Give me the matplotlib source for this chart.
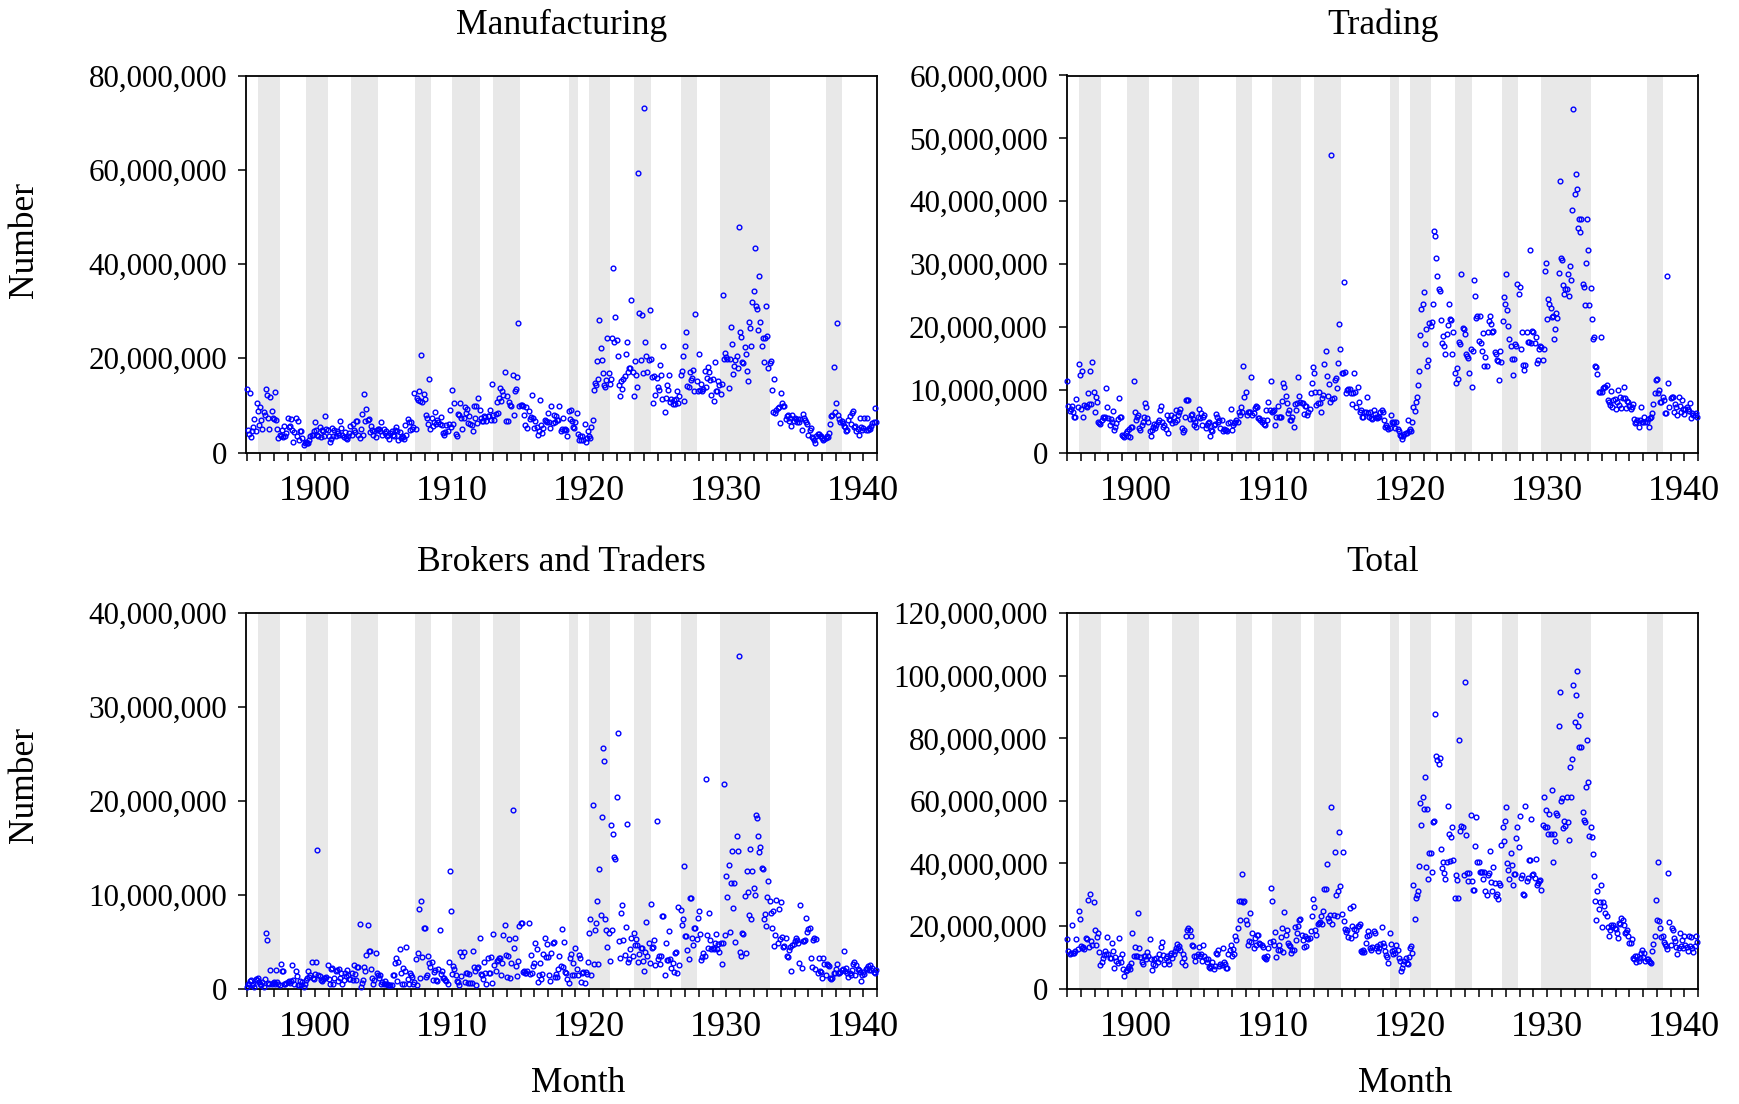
import matplotlib.pyplot as plt
from matplotlib.ticker import FixedLocator, FuncFormatter
import numpy as np

plt.rcParams['font.family'] = ['Liberation Serif', 'DejaVu Serif']

# monthly counts in millions, Jan 1895 - Dec 1940, one row per year
manufacturing = [
    13.5, 4.8, 3.9, 12.6, 3.2, 4.6, 5.5, 7.2, 4.6, 10.6, 8.9, 5.9,
    9.7, 7.0, 5.0, 8.5, 7.9, 13.5, 12.1, 7.3, 5.0, 11.7, 8.9, 7.4,
    7.1, 12.8, 6.8, 5.0, 3.0, 3.8, 3.4, 4.7, 3.2, 5.7, 3.4, 4.1,
    7.3, 5.5, 5.7, 7.2, 4.7, 2.2, 4.3, 7.4, 3.5, 6.6, 2.6, 4.6,
    4.6, 3.1, 1.6, 2.1, 2.3, 2.1, 2.0, 2.7, 3.5, 3.8, 3.8, 4.6,
    6.4, 4.8, 3.8, 3.6, 5.5, 3.2, 4.8, 4.5, 3.5, 7.7, 5.0, 4.8,
    3.6, 2.3, 2.9, 5.2, 3.6, 4.8, 3.6, 4.6, 4.1, 3.8, 6.7, 5.3,
    3.8, 3.2, 4.3, 3.1, 2.9, 3.4, 4.1, 5.7, 3.8, 6.1, 4.8, 4.3,
    6.7, 6.7, 3.8, 3.0, 5.0, 8.2, 3.8, 12.5, 6.6, 9.2, 7.0, 7.1,
    4.3, 5.7, 4.7, 3.8, 4.5, 3.3, 4.7, 5.0, 5.0, 4.5, 6.5, 3.8,
    5.0, 4.1, 4.5, 3.6, 3.8, 2.8, 4.1, 4.6, 3.8, 3.5, 4.7, 5.5,
    4.5, 2.7, 4.3, 3.0, 3.4, 3.2, 2.8, 5.9, 3.8, 7.1, 6.4, 4.8,
    6.4, 5.0, 5.5, 12.6, 5.0, 11.5, 11.2, 13.1, 10.9, 20.6, 10.7, 12.5,
    11.3, 8.0, 7.3, 6.0, 15.5, 5.0, 7.4, 5.7, 6.4, 8.5, 6.0, 6.8,
    6.5, 6.0, 7.5, 5.9, 4.1, 3.7, 4.3, 5.9, 4.6, 6.0, 9.1, 5.5,
    13.2, 6.1, 10.4, 3.9, 3.6, 8.2, 8.0, 10.6, 7.4, 5.0, 7.4, 9.6,
    8.4, 9.2, 6.2, 7.7, 6.1, 5.9, 4.5, 9.9, 7.3, 9.9, 6.2, 11.6,
    9.1, 7.4, 6.6, 6.6, 7.7, 7.5, 6.6, 7.7, 7.8, 9.1, 7.0, 14.6,
    8.0, 7.0, 8.2, 10.7, 8.4, 11.6, 13.7, 10.9, 13.0, 12.3, 17.1, 6.7,
    11.9, 6.7, 10.7, 10.1, 9.8, 16.5, 7.9, 13.1, 13.5, 16.0, 27.4, 9.9,
    10.1, 10.1, 9.9, 7.9, 5.9, 9.6, 5.1, 8.9, 7.2, 7.5, 12.1, 7.4,
    5.2, 6.7, 5.5, 3.8, 4.5, 11.2, 5.9, 4.1, 5.3, 6.8, 6.6, 6.5,
    8.4, 6.4, 5.3, 9.8, 6.2, 8.0, 6.4, 7.7, 6.8, 6.8, 9.9, 4.6,
    5.0, 7.4, 4.8, 5.0, 4.8, 3.6, 8.9, 7.1, 9.1, 6.7, 5.4, 5.3,
    6.5, 8.4, 3.9, 2.6, 3.4, 2.6, 3.4, 2.6, 6.1, 2.3, 3.0, 4.5,
    3.5, 3.0, 5.4, 6.8, 13.3, 14.8, 14.4, 19.5, 15.7, 28.2, 22.2, 19.7,
    16.9, 14.4, 13.8, 15.3, 24.3, 16.9, 14.5, 15.6, 24.3, 39.1, 23.5, 28.7,
    23.8, 20.4, 14.4, 11.9, 15.1, 13.5, 15.5, 16.2, 21.0, 23.4, 17.0, 18.0,
    18.0, 32.3, 17.0, 11.9, 19.5, 16.5, 13.8, 59.4, 29.5, 19.6, 29.1, 16.9,
    73.1, 23.5, 20.4, 17.0, 19.6, 30.2, 19.9, 16.0, 10.6, 16.3, 12.3, 15.8,
    13.8, 13.3, 18.5, 16.5, 11.3, 22.7, 8.6, 11.6, 14.4, 13.2, 16.4, 10.7,
    11.3, 10.3, 11.1, 10.3, 11.3, 13.0, 10.5, 11.9, 16.5, 17.2, 20.4, 10.9,
    22.7, 25.6, 14.2, 14.0, 17.0, 15.3, 15.8, 17.6, 13.1, 29.3, 15.1, 13.1,
    20.8, 13.3, 14.5, 13.1, 13.5, 17.2, 13.9, 15.8, 18.2, 17.0, 15.3, 12.3,
    15.5, 10.9, 19.2, 13.1, 13.1, 15.2, 14.3, 12.5, 14.5, 33.5, 19.9, 21.1,
    20.3, 19.9, 13.7, 19.9, 26.6, 23.1, 16.7, 18.4, 19.7, 20.4, 18.0, 47.9,
    25.6, 24.5, 19.2, 19.0, 22.3, 21.0, 17.3, 15.1, 27.7, 26.5, 22.7, 32.0,
    34.3, 43.5, 31.1, 30.4, 26.0, 37.4, 27.7, 22.7, 24.3, 19.2, 24.3, 31.1,
    24.7, 17.9, 19.0, 19.4, 13.3, 8.7, 15.5, 8.4, 9.1, 9.4, 9.6, 6.2,
    12.6, 10.6, 9.9, 9.9, 7.1, 7.7, 7.9, 6.6, 7.3, 5.7, 7.9, 6.6,
    7.3, 7.1, 6.4, 7.1, 6.4, 7.1, 4.7, 8.2, 7.3, 6.8, 6.4, 6.1,
    3.8, 4.7, 5.2, 3.3, 3.0, 2.6, 2.1, 3.6, 3.9, 3.9, 3.5, 3.4,
    3.0, 2.7, 2.8, 3.0, 3.4, 3.2, 4.1, 6.1, 7.7, 8.0, 18.2, 8.7,
    10.5, 27.4, 7.9, 7.2, 6.4, 6.6, 6.2, 5.7, 5.5, 4.5, 4.8, 6.8,
    7.8, 6.1, 8.4, 8.9, 5.5, 5.7, 4.6, 5.0, 3.8, 7.3, 5.5, 4.8,
    5.2, 7.3, 4.8, 7.4, 4.8, 5.2, 5.0, 5.7, 6.2, 6.5, 9.4, 6.5,
]

trading = [
    11.4, 7.4, 6.6, 6.9, 7.4, 6.5, 5.7, 5.7, 8.5, 7.3, 14.1, 12.4,
    6.9, 12.9, 5.7, 7.6, 7.4, 7.2, 9.4, 7.7, 13.0, 7.7, 14.4, 9.6,
    6.4, 8.8, 8.0, 4.9, 4.7, 4.5, 5.1, 5.7, 5.5, 5.6, 10.3, 7.2,
    5.5, 4.3, 5.3, 4.9, 6.6, 3.6, 4.1, 4.7, 5.3, 8.6, 5.6, 5.6,
    2.8, 2.7, 2.4, 3.1, 3.4, 2.6, 3.7, 2.4, 4.0, 4.1, 11.4, 6.4,
    5.1, 5.6, 5.9, 3.9, 3.6, 4.3, 4.9, 5.6, 7.9, 7.3, 5.5, 4.8,
    3.5, 2.7, 3.6, 4.1, 4.6, 3.9, 4.4, 4.9, 5.2, 6.8, 7.4, 4.9,
    4.1, 4.3, 3.7, 6.0, 3.1, 5.3, 5.2, 6.0, 4.7, 5.7, 4.8, 6.8,
    5.1, 5.9, 6.5, 6.9, 3.9, 3.2, 3.6, 5.7, 8.3, 8.4, 8.3, 5.3,
    5.9, 6.2, 5.3, 4.4, 4.8, 4.1, 5.7, 6.9, 5.5, 6.3, 4.3, 5.7,
    5.9, 3.9, 4.3, 4.7, 4.8, 2.6, 3.6, 3.4, 4.4, 4.5, 6.1, 5.7,
    4.9, 5.2, 3.9, 5.1, 3.5, 3.7, 3.6, 3.6, 3.5, 4.7, 4.8, 7.0,
    3.6, 4.3, 4.7, 4.9, 5.1, 4.9, 6.5, 5.9, 7.3, 6.5, 13.8, 8.9,
    9.7, 6.0, 6.4, 6.4, 6.4, 12.0, 6.0, 6.3, 7.1, 7.4, 7.2, 5.5,
    5.5, 5.2, 4.9, 5.2, 4.5, 4.4, 6.8, 5.2, 8.0, 6.7, 11.3, 6.5,
    6.6, 6.7, 4.3, 5.6, 7.4, 5.6, 5.6, 5.7, 8.2, 11.1, 10.4, 9.0,
    7.9, 6.3, 6.7, 5.2, 5.1, 5.6, 4.0, 7.7, 6.8, 7.9, 12.0, 9.0,
    8.0, 7.9, 7.8, 6.1, 7.4, 7.4, 6.0, 6.5, 7.0, 9.5, 11.1, 13.6,
    12.6, 9.6, 7.5, 7.8, 9.6, 7.9, 6.4, 8.7, 9.2, 14.1, 16.1, 12.2,
    9.0, 10.9, 8.0, 47.4, 8.5, 8.7, 11.5, 11.9, 10.3, 14.3, 20.5, 16.4,
    12.6, 12.7, 27.2, 12.8, 9.5, 10.0, 10.1, 10.1, 9.4, 7.7, 9.5, 12.7,
    9.7, 7.3, 10.4, 8.0, 6.5, 6.8, 5.6, 5.7, 6.5, 6.4, 8.8, 6.3,
    5.6, 6.5, 5.5, 5.3, 6.7, 6.1, 5.6, 5.5, 5.7, 5.7, 6.4, 6.8,
    6.5, 5.2, 4.1, 4.3, 4.0, 3.8, 3.9, 6.0, 4.8, 4.7, 4.8, 3.9,
    4.8, 3.7, 3.4, 2.8, 2.6, 2.1, 2.6, 3.0, 3.1, 3.1, 5.2, 3.5,
    3.7, 3.5, 4.8, 7.2, 6.6, 8.0, 8.8, 10.8, 12.9, 18.7, 22.9, 23.6,
    25.6, 17.3, 19.6, 13.7, 14.7, 20.6, 20.1, 20.7, 23.6, 35.2, 34.5, 30.9,
    28.1, 26.1, 25.7, 21.1, 17.4, 18.5, 17.0, 15.6, 18.9, 20.3, 23.6, 21.3,
    21.1, 15.7, 19.2, 12.7, 11.0, 13.4, 11.7, 17.6, 17.3, 28.4, 19.8, 19.6,
    18.9, 15.7, 15.4, 15.1, 12.7, 16.5, 10.4, 16.1, 27.4, 24.9, 21.4, 21.7,
    17.8, 21.8, 17.4, 16.1, 19.0, 13.8, 15.2, 13.8, 19.2, 20.9, 21.8, 20.5,
    19.1, 19.4, 16.0, 15.7, 14.8, 14.5, 11.5, 16.1, 14.4, 20.9, 24.7, 23.6,
    28.4, 22.6, 20.2, 18.1, 17.0, 14.9, 12.3, 14.9, 17.3, 17.0, 26.8, 25.2,
    26.4, 16.4, 19.2, 14.0, 13.1, 13.9, 19.2, 17.6, 17.6, 32.2, 17.4, 19.3,
    19.2, 17.4, 18.4, 14.3, 14.8, 16.4, 16.9, 16.8, 14.8, 16.4, 28.9, 30.1,
    21.2, 24.5, 23.7, 23.0, 21.5, 21.8, 18.1, 19.6, 22.2, 21.4, 28.6, 43.2,
    31.0, 30.6, 26.6, 25.3, 26.1, 26.1, 28.4, 24.9, 29.7, 27.4, 38.6, 54.7,
    41.2, 44.3, 41.9, 35.8, 37.1, 35.1, 37.1, 26.8, 26.3, 23.4, 30.1, 37.1,
    32.2, 23.5, 26.2, 21.2, 18.1, 18.4, 13.8, 13.6, 12.5, 9.6, 9.7, 18.4,
    9.6, 10.3, 10.5, 10.5, 10.7, 8.4, 8.0, 7.6, 9.8, 7.2, 8.3, 8.5,
    6.9, 8.1, 10.0, 7.6, 8.9, 7.1, 8.7, 10.5, 8.7, 7.1, 8.2, 8.1,
    7.4, 6.9, 7.2, 7.7, 5.3, 4.7, 4.8, 5.1, 4.0, 5.2, 7.3, 4.8,
    4.9, 5.7, 4.9, 4.8, 5.3, 4.1, 5.5, 5.7, 6.3, 7.7, 9.4, 11.6,
    11.7, 9.4, 10.0, 8.1, 8.0, 8.9, 8.4, 6.3, 6.3, 28.1, 11.0, 7.2,
    8.7, 8.9, 8.8, 6.4, 7.7, 7.2, 5.9, 8.8, 7.4, 6.5, 8.4, 6.9,
    6.1, 6.9, 7.2, 6.9, 6.6, 7.9, 5.5, 6.3, 5.9, 6.0, 6.3, 5.7,
]

brokers = [
    0.2, 0.5, 0.5, 0.8, 0.9, 0.4, 0.5, 0.2, 1.0, 0.9, 1.1, 0.7,
    0.5, 0.4, 0.7, 0.2, 1.0, 5.9, 5.2, 0.6, 0.5, 2.0, 0.5, 0.6,
    0.7, 0.5, 2.0, 0.7, 0.5, 0.4, 2.6, 1.9, 1.9, 0.5, 0.5, 0.6,
    0.7, 0.8, 0.6, 0.8, 2.5, 0.9, 0.5, 1.9, 1.3, 0.4, 0.4, 0.8,
    0.4, 0.7, 0.2, 0.5, 0.9, 1.1, 1.9, 1.2, 1.4, 2.8, 1.1, 1.0,
    1.5, 2.8, 14.8, 1.4, 1.3, 0.9, 0.8, 1.0, 1.1, 1.1, 1.2, 2.5,
    1.0, 0.5, 2.1, 2.2, 0.5, 1.1, 1.9, 2.0, 0.8, 2.1, 1.1, 1.7,
    0.5, 0.9, 1.6, 1.3, 2.0, 1.4, 1.0, 1.0, 1.6, 0.9, 2.5, 1.5,
    0.9, 2.3, 2.3, 6.9, 0.2, 0.6, 0.9, 2.3, 1.9, 3.6, 6.8, 4.0,
    4.0, 2.1, 1.1, 0.5, 0.9, 3.8, 1.6, 1.4, 1.1, 1.4, 0.5, 0.7,
    0.5, 0.8, 0.5, 0.5, 0.4, 0.4, 0.4, 0.4, 1.4, 1.4, 2.7, 3.3,
    0.8, 2.8, 4.2, 1.6, 0.5, 2.2, 0.5, 1.9, 4.4, 1.0, 0.5, 1.6,
    1.4, 1.2, 0.5, 0.7, 3.1, 0.4, 3.8, 8.5, 1.1, 9.3, 3.4, 6.4,
    6.5, 1.2, 1.4, 3.5, 2.7, 2.3, 2.8, 0.9, 1.8, 2.0, 0.9, 0.8,
    2.1, 6.2, 1.5, 1.9, 1.1, 1.1, 0.9, 0.8, 0.5, 2.8, 12.5, 8.3,
    1.5, 2.4, 2.1, 1.4, 0.8, 0.7, 0.4, 3.9, 1.3, 3.5, 3.9, 0.7,
    1.7, 1.6, 0.6, 1.5, 0.6, 0.6, 4.0, 2.3, 1.9, 0.4, 2.2, 2.3,
    5.4, 1.5, 1.4, 1.0, 2.8, 1.7, 0.5, 3.3, 1.7, 1.7, 3.4, 0.6,
    5.8, 2.5, 1.9, 2.9, 3.0, 3.2, 3.2, 1.4, 2.7, 5.7, 6.8, 3.6,
    1.2, 3.5, 5.3, 1.1, 2.7, 19.0, 4.3, 5.4, 2.4, 1.3, 2.9, 6.7,
    7.0, 7.0, 1.8, 1.9, 1.6, 1.7, 1.9, 7.0, 1.5, 3.6, 1.7, 2.4,
    2.7, 4.9, 4.2, 0.7, 1.4, 2.7, 1.0, 1.5, 3.7, 5.4, 3.4, 4.7,
    3.4, 1.4, 0.8, 3.8, 4.9, 5.0, 1.2, 1.5, 1.2, 2.1, 3.5, 2.4,
    6.3, 2.3, 5.0, 1.8, 1.7, 1.0, 0.6, 3.2, 3.7, 1.4, 2.7, 1.4,
    4.3, 2.1, 1.4, 3.6, 3.3, 0.7, 1.7, 1.8, 0.6, 1.8, 1.5, 2.8,
    5.9, 7.4, 1.4, 19.6, 2.6, 6.2, 7.0, 9.3, 2.6, 12.7, 7.8, 18.3,
    25.6, 24.3, 7.4, 6.2, 4.4, 5.9, 2.9, 17.4, 6.2, 16.5, 14.0, 13.8,
    20.4, 27.2, 5.1, 3.3, 8.1, 8.9, 5.2, 3.6, 6.6, 17.5, 2.8, 3.1,
    4.2, 5.4, 3.5, 5.9, 4.6, 5.3, 4.6, 2.8, 3.7, 4.3, 4.3, 2.9,
    1.9, 3.9, 7.1, 3.5, 4.8, 2.7, 9.0, 4.3, 4.4, 5.2, 2.5, 17.9,
    3.1, 3.5, 2.6, 3.5, 7.7, 7.7, 1.4, 4.8, 3.0, 3.0, 6.1, 3.1,
    2.2, 2.7, 1.8, 3.8, 3.9, 1.6, 8.7, 2.5, 8.4, 6.8, 7.4, 13.1,
    5.6, 5.6, 4.1, 3.1, 9.6, 9.6, 5.4, 4.6, 6.5, 6.4, 5.3, 7.5,
    8.3, 5.8, 3.0, 3.4, 3.8, 3.5, 22.3, 5.7, 4.3, 8.0, 5.2, 4.2,
    4.3, 4.2, 4.9, 5.8, 4.2, 4.7, 3.9, 4.9, 2.6, 4.9, 21.8, 5.7,
    12.0, 9.8, 13.2, 6.0, 11.3, 14.7, 8.6, 11.3, 5.0, 16.3, 14.7, 35.5,
    3.9, 3.5, 5.9, 5.8, 9.9, 3.8, 12.5, 10.3, 7.8, 14.9, 7.4, 12.5,
    10.7, 10.0, 18.5, 18.2, 16.3, 14.5, 15.1, 12.8, 12.7, 7.4, 7.9, 6.7,
    9.8, 11.5, 9.3, 8.0, 6.4, 8.3, 4.5, 5.7, 9.4, 4.8, 8.5, 5.3,
    9.2, 5.5, 4.4, 4.5, 5.4, 3.5, 3.4, 4.1, 4.4, 1.9, 4.6, 4.7,
    5.1, 5.4, 5.2, 4.8, 2.7, 8.9, 2.2, 5.1, 5.1, 5.2, 7.5, 6.0,
    6.3, 6.5, 3.3, 2.3, 5.2, 5.4, 2.1, 5.3, 1.7, 3.3, 1.9, 1.8,
    1.1, 3.2, 2.6, 1.4, 2.6, 2.5, 2.4, 1.1, 1.0, 1.1, 1.6, 1.7,
    2.1, 2.6, 1.7, 1.6, 1.8, 2.0, 2.1, 4.0, 1.9, 2.2, 1.6, 1.2,
    1.7, 1.4, 2.0, 2.6, 2.8, 1.4, 2.5, 2.1, 2.0, 1.8, 0.8, 1.4,
    1.8, 1.5, 2.1, 2.2, 2.4, 2.0, 2.5, 2.0, 2.2, 1.8, 1.7, 2.0,
]

total = [
    15.9, 11.9, 10.9, 11.2, 20.2, 11.2, 11.4, 11.9, 15.9, 12.7, 24.9, 22.2,
    13.5, 13.0, 13.2, 12.7, 16.0, 15.9, 28.3, 13.2, 30.2, 15.3, 14.0, 27.7,
    18.8, 14.0, 16.4, 17.8, 11.6, 7.4, 8.5, 9.8, 10.6, 11.9, 11.1, 16.4,
    11.1, 9.8, 9.6, 14.6, 11.9, 6.6, 10.0, 8.9, 8.2, 16.2, 9.6, 8.5,
    10.9, 6.1, 4.1, 5.5, 5.9, 6.6, 7.3, 6.1, 8.2, 17.8, 10.5, 13.2,
    10.3, 10.5, 24.0, 13.0, 10.1, 8.4, 7.7, 10.3, 10.3, 9.3, 11.6, 10.5,
    15.9, 9.3, 5.9, 7.9, 9.5, 7.4, 9.8, 8.5, 10.9, 9.3, 13.2, 14.8,
    10.6, 7.9, 9.8, 10.3, 8.7, 7.7, 10.6, 11.4, 9.8, 10.9, 11.9, 13.0,
    14.3, 13.0, 13.5, 12.4, 8.5, 11.1, 9.8, 7.4, 16.9, 18.8, 19.4, 18.8,
    16.7, 13.8, 13.5, 10.3, 8.9, 10.3, 10.9, 13.2, 10.3, 10.9, 8.9, 14.0,
    10.3, 9.5, 8.4, 9.3, 6.8, 6.6, 7.1, 8.4, 6.3, 7.3, 11.4, 11.1,
    12.2, 7.1, 7.9, 7.4, 13.0, 8.4, 7.9, 6.6, 6.6, 10.9, 12.4, 14.0,
    10.3, 12.7, 10.9, 16.9, 15.6, 19.4, 27.9, 22.0, 27.9, 36.6, 27.6, 27.9,
    22.0, 20.6, 14.0, 15.1, 24.1, 14.9, 17.8, 13.0, 16.2, 14.0, 17.0, 17.0,
    14.6, 14.3, 14.0, 13.3, 10.1, 9.8, 9.3, 10.3, 13.0, 14.9, 32.3, 27.9,
    15.3, 13.8, 18.1, 10.0, 12.4, 14.0, 12.4, 16.4, 19.4, 11.6, 24.5, 17.2,
    18.6, 14.6, 13.8, 13.5, 11.4, 12.2, 12.2, 19.6, 15.6, 17.8, 20.1, 22.0,
    22.2, 17.2, 15.6, 13.2, 16.7, 13.5, 16.2, 15.9, 16.0, 18.5, 23.3, 28.6,
    26.1, 18.8, 17.2, 20.6, 21.0, 21.3, 23.1, 20.6, 24.7, 31.8, 31.8, 39.8,
    22.6, 21.5, 23.6, 58.2, 20.7, 23.6, 43.8, 30.0, 23.3, 31.3, 50.0, 32.7,
    23.9, 43.8, 21.5, 19.1, 18.0, 18.8, 16.4, 25.7, 16.0, 19.9, 26.3, 19.1,
    17.2, 18.8, 19.9, 20.1, 20.6, 12.1, 11.7, 12.4, 11.6, 14.6, 16.7, 18.5,
    17.2, 13.0, 12.2, 13.2, 18.5, 17.8, 13.0, 13.7, 11.9, 13.0, 14.3, 19.6,
    14.6, 13.7, 12.1, 10.6, 10.0, 8.2, 17.8, 14.3, 11.9, 11.1, 12.4, 11.4,
    13.8, 12.4, 9.8, 8.9, 5.7, 6.4, 7.7, 8.7, 9.8, 8.2, 7.7, 10.0,
    13.0, 13.5, 11.2, 33.2, 22.2, 28.9, 29.8, 31.1, 39.3, 59.3, 52.3, 61.1,
    57.4, 67.8, 39.0, 57.4, 35.0, 43.3, 43.3, 37.4, 53.4, 53.7, 87.8, 74.4,
    73.1, 71.8, 73.6, 44.7, 38.5, 40.3, 37.1, 35.0, 40.6, 58.4, 49.5, 40.9,
    48.6, 51.8, 41.0, 28.9, 36.2, 34.8, 28.9, 79.5, 50.5, 52.0, 51.6, 36.4,
    98.1, 49.1, 37.1, 34.5, 37.1, 55.5, 34.5, 31.4, 31.4, 45.6, 54.8, 40.3,
    40.4, 37.4, 37.4, 37.4, 35.0, 37.4, 31.1, 30.0, 36.2, 37.1, 44.0, 34.0,
    31.1, 38.7, 33.7, 29.7, 30.2, 28.6, 33.7, 33.2, 46.0, 51.8, 47.2, 53.6,
    58.2, 40.1, 38.0, 35.0, 43.4, 39.6, 33.2, 36.6, 36.6, 48.2, 51.5, 45.4,
    55.2, 35.3, 36.4, 30.2, 30.0, 58.5, 34.5, 35.3, 41.0, 41.0, 54.1, 36.4,
    36.6, 35.5, 41.5, 33.0, 33.9, 34.3, 34.6, 31.6, 52.3, 61.3, 51.8, 57.1,
    51.8, 49.5, 55.9, 49.5, 63.5, 40.3, 49.5, 47.2, 56.2, 55.5, 84.0, 94.9,
    60.0, 60.9, 51.3, 53.7, 52.0, 61.2, 53.4, 47.6, 71.0, 61.1, 73.4, 97.2,
    85.1, 93.9, 101.5, 84.0, 77.3, 87.4, 77.3, 56.4, 53.9, 53.2, 64.6, 79.5,
    66.0, 48.9, 51.5, 48.4, 43.0, 35.9, 27.9, 22.0, 31.1, 25.5, 27.6, 33.2,
    19.7, 27.6, 26.3, 24.1, 23.1, 19.6, 16.9, 18.8, 20.4, 19.6, 20.4, 19.4,
    19.1, 17.8, 16.0, 21.0, 20.7, 22.6, 22.0, 20.4, 17.8, 18.0, 18.8, 16.7,
    14.6, 14.6, 15.9, 9.8, 9.3, 10.5, 8.5, 10.3, 8.7, 9.6, 11.4, 12.4,
    10.0, 11.4, 8.9, 9.3, 9.5, 8.7, 8.4, 8.2, 12.1, 14.3, 16.7, 28.2,
    21.8, 40.6, 21.5, 19.4, 16.4, 16.9, 14.8, 14.3, 13.5, 12.7, 36.9, 21.2,
    14.0, 19.4, 18.8, 16.2, 15.3, 13.2, 10.9, 13.0, 17.8, 13.5, 15.6, 13.0,
    16.7, 14.0, 13.2, 11.9, 16.7, 13.5, 16.5, 13.0, 11.7, 13.5, 16.9, 14.9,
]

# business-cycle contractions: (start year, start month, end year, end month)
recessions = [
    (1895, 12, 1897, 6), (1899, 6, 1900, 12), (1902, 9, 1904, 8),
    (1907, 5, 1908, 6), (1910, 1, 1912, 1), (1913, 1, 1914, 12),
    (1918, 8, 1919, 3), (1920, 1, 1921, 7), (1923, 5, 1924, 7),
    (1926, 10, 1927, 11), (1929, 8, 1933, 3), (1937, 5, 1938, 6),
]

W, H = 1739, 1104
fig = plt.figure(figsize=(W / 100, H / 100), dpi=100)


def box(left, top, right, bottom):
    return [left / W, 1 - bottom / H, (right - left) / W, (bottom - top) / H]


panels = [
    ('Manufacturing', manufacturing, 80, 20, box(246.5, 75.5, 877, 452.5)),
    ('Trading', trading, 60, 10, box(1067.3, 75.5, 1698, 452.5)),
    ('Brokers and Traders', brokers, 40, 10, box(246.5, 613.3, 877, 988.5)),
    ('Total', total, 120, 20, box(1067.3, 613.3, 1698, 988.5)),
]


def year_label(v, pos):
    y = int(round(v))
    return str(y) if y % 10 == 0 and 1900 <= y <= 1940 else ''


for title, values, top, step, rect in panels:
    ax = fig.add_axes(rect)
    for y0, m0, y1, m1 in recessions:
        ax.axvspan(y0 + (m0 - 1) / 12 - 1 / 24, y1 + (m1 - 1) / 12 + 1 / 24,
                   color='#e8e8e8', lw=0, zorder=0)
    x = 1895 + np.arange(len(values)) / 12.0
    ax.plot(x, np.array(values) * 1e6, 'o', ms=3.4, mfc='none', mec='#0000ff',
            mew=1.0, zorder=3, clip_on=False)
    ax.set_xlim(1895, 1941)
    ax.set_ylim(0, top * 1e6)
    ax.xaxis.set_major_locator(FixedLocator(np.arange(1895, 1942)))
    ax.xaxis.set_major_formatter(FuncFormatter(year_label))
    ax.yaxis.set_major_locator(FixedLocator(np.arange(0, top + step, step) * 1e6))
    ax.yaxis.set_major_formatter(FuncFormatter(lambda v, p: f'{v:,.0f}'))
    ax.tick_params(axis='both', direction='out', length=6, width=1.1,
                   top=False, right=False)
    ax.tick_params(axis='x', labelsize=26, pad=10.5)
    ax.tick_params(axis='y', labelsize=22.4, pad=8)
    for s in ax.spines.values():
        s.set_linewidth(1.3)
    cx = (rect[0] + rect[2] / 2)
    fig.text(cx, rect[1] + rect[3] + 50.5 / H, title, ha='center', va='center',
             fontsize=25.7)

fig.text(24.5 / W, 1 - 240 / H, 'Number', rotation=90, ha='center', va='center', fontsize=25.5)
fig.text(24.5 / W, 1 - 785 / H, 'Number', rotation=90, ha='center', va='center', fontsize=25.5)
fig.text(578 / W, 1 - 1083.5 / H, 'Month', ha='center', va='center', fontsize=25.5)
fig.text(1405 / W, 1 - 1083.5 / H, 'Month', ha='center', va='center', fontsize=25.5)

fig.savefig('out.png', dpi=100)
